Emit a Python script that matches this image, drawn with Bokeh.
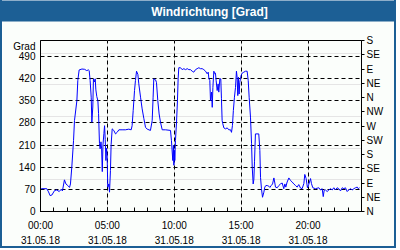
from bokeh.plotting import figure
from bokeh.models import Range1d, LinearAxis, FixedTicker, Grid, Title
from bokeh.embed import file_html
from bokeh.resources import INLINE

# ---- data (hours since 00:00 on 31.05.18, wind direction in degrees) ----
hours = [0.05, 0.47, 0.6, 0.72, 0.85, 1.05, 1.22, 1.4, 1.54, 1.64, 1.79, 1.9, 2.04, 2.17, 2.24,
         2.34, 2.47, 2.54, 2.72, 2.79, 2.89, 3.1, 3.3, 3.45, 3.59, 3.64, 3.71, 3.79, 3.84, 3.91,
         3.96, 4.04, 4.09, 4.14, 4.21, 4.29, 4.34, 4.41, 4.46, 4.52, 4.57, 4.62, 4.67, 4.74, 4.79,
         4.84, 4.89, 4.93, 4.98, 5.03, 5.11, 5.16, 5.23, 5.28, 5.36, 5.48, 5.61, 5.73, 5.86, 6.1,
         6.35, 6.6, 6.78, 6.85, 6.93, 7.03, 7.1, 7.18, 7.28, 7.35, 7.48, 7.6, 7.73, 7.85, 7.98,
         8.22, 8.35, 8.42, 8.47, 8.6, 8.67, 8.77, 8.87, 8.97, 9.1, 9.35, 9.72, 9.79, 9.89, 9.94,
         9.97, 10.02, 10.04, 10.09, 10.17, 10.24, 10.29, 10.34, 10.47, 10.59, 10.72, 10.84, 10.97,
         11.09, 11.21, 11.34, 11.46, 11.59, 11.71, 11.84, 11.96, 12.09, 12.21, 12.34, 12.46, 12.54,
         12.59, 12.66, 12.71, 12.79, 12.84, 12.89, 12.96, 13.03, 13.08, 13.13, 13.21, 13.28, 13.33,
         13.41, 13.48, 13.53, 13.58, 13.63, 13.71, 13.83, 13.96, 14.08, 14.21, 14.28, 14.35, 14.42,
         14.5, 14.58, 14.65, 14.7, 14.75, 14.8, 14.85, 14.9, 14.95, 15.0, 15.08, 15.2, 15.33,
         15.45, 15.53, 15.6, 15.7, 15.78, 15.83, 15.9, 15.95, 16.0, 16.07, 16.32, 16.4, 16.45,
         16.52, 16.6, 16.7, 16.77, 16.85, 16.95, 17.07, 17.15, 17.25, 17.35, 17.45, 17.52, 17.57,
         17.7, 17.82, 17.94, 18.07, 18.19, 18.27, 18.34, 18.44, 18.57, 18.69, 18.82, 18.94, 19.07,
         19.19, 19.31, 19.44, 19.56, 19.69, 19.76, 19.86, 19.96, 20.06, 20.19, 20.26, 20.36, 20.56,
         20.81, 20.93, 21.06, 21.14, 21.21, 21.31, 21.43, 21.56, 21.68, 21.81, 21.93, 22.06, 22.18,
         22.3, 22.43, 22.56, 22.68, 22.8, 22.93, 23.05, 23.18, 23.3, 23.43, 23.55, 23.68, 23.75,
         23.85]
degrees = [72, 72, 62, 50, 52, 66, 68, 63, 70, 65, 100, 87, 82, 76, 87,
           140, 224, 287, 350, 414, 447, 450, 449, 445, 447, 445, 414, 361, 282, 330,
           419, 409, 419, 384, 363, 350, 309, 214, 198, 220, 198, 126, 210, 246, 271,
           227, 161, 200, 180, 77, 87, 61, 129, 211, 261, 256, 245, 250, 258, 258,
           258, 260, 258, 271, 319, 382, 414, 443, 433, 403, 361, 324, 293, 266, 260,
           256, 287, 361, 419, 416, 408, 350, 308, 282, 258, 258, 256, 224, 161, 209,
           146, 193, 161, 224, 282, 350, 419, 454, 454, 448, 451, 448, 451,
           448, 448, 443, 440, 448, 451, 454, 451, 451, 448, 443, 435, 440,
           419, 414, 350, 377, 329, 392, 443, 435, 437, 414, 382, 403, 377,
           419, 419, 356, 287, 277, 264, 261, 264, 258, 258, 250, 271, 319,
           361, 392, 443, 424, 366, 424, 371, 408, 419, 430, 437, 440, 443,
           443, 414, 361, 298, 214, 140, 87, 100, 157, 245, 245, 193, 108,
           72, 45, 61, 77, 82, 82, 80, 76, 82, 87, 106, 90, 77,
           75, 82, 87, 90, 72, 87, 77, 93, 106, 98, 93, 87, 82,
           77, 85, 74, 72, 88, 117, 104, 75, 86, 104, 88, 75, 72,
           75, 68, 72, 47, 67, 68, 63, 68, 72, 68, 75, 68, 75,
           72, 65, 75, 72, 75, 63, 68, 72, 68, 72, 75, 77, 72,
           75]

left_ticks = [0, 70, 140, 210, 280, 350, 420, 490]
unit_label_pos = 521          # where the unit caption "Grad" sits on the left scale
unit_text = "Grad"
compass_ticks = [0, 45, 90, 135, 180, 225, 270, 315, 360, 405, 450, 495, 540]
compass_labels = ["N", "NE", "E", "SE", "S", "SW", "W", "NW", "N", "NE", "E", "SE", "S"]
time_ticks = [0, 5, 10, 15, 20]
time_labels = ["00:00\n31.05.18", "05:00\n31.05.18", "10:00\n31.05.18",
               "15:00\n31.05.18", "20:00\n31.05.18"]
title_text = "Windrichtung [Grad]"

BLUE_BAR = "#1c5f95"
PANEL = "#fbfefb"
FONT = "Liberation Sans"

p = figure(width=396, height=248, output_backend="svg", toolbar_location=None,
           x_range=Range1d(0, 24), y_range=Range1d(0, 540),
           x_axis_location=None, y_axis_location=None,
           min_border_left=38, min_border_right=37, min_border_top=40, min_border_bottom=37,
           styles={"border-left": f"2px solid {BLUE_BAR}", "border-right": f"2px solid {BLUE_BAR}",
                   "border-bottom": f"2px solid {BLUE_BAR}"})
p.title = None
p.border_fill_color = PANEL
p.background_fill_color = PANEL
p.outline_line_color = "black"
p.outline_line_width = 1

# spacer between the title bar and the plot frame
p.add_layout(Title(text=" ", standoff=1, text_font=FONT, text_font_size="12px",
                   text_font_style="bold"), "above")
p.add_layout(Title(text=title_text, align="center", vertical_align="top", standoff=0,
                   text_color="white", text_font=FONT, text_font_size="12px",
                   text_font_style="bold", background_fill_color=BLUE_BAR,
                   padding=dict(left=317, right=300, top=4, bottom=3)), "above")

# left axis (with the unit caption as an extra label at the top)
ya = LinearAxis(ticker=FixedTicker(ticks=left_ticks + [unit_label_pos]),
                major_label_overrides={unit_label_pos: unit_text})
ya.major_tick_in = 0
ya.major_tick_out = 0
ya.minor_tick_line_color = None
ya.major_label_standoff = 5
ya.major_label_text_font = FONT
ya.major_label_text_font_size = "10px"
ya.major_label_text_color = "black"
ya.axis_line_color = "black"
p.add_layout(ya, "left")

# right compass axis
ra = LinearAxis(ticker=FixedTicker(ticks=compass_ticks),
                major_label_overrides={t: l for t, l in zip(compass_ticks, compass_labels)})
ra.major_tick_in = 0
ra.major_tick_out = 3
ra.minor_tick_line_color = None
ra.major_label_standoff = 2
ra.major_label_text_font = FONT
ra.major_label_text_font_size = "10px"
ra.major_label_text_color = "black"
ra.axis_line_color = "black"
p.add_layout(ra, "right")

# bottom time axis
xa = LinearAxis(ticker=FixedTicker(ticks=time_ticks, minor_ticks=list(range(0, 25))),
                major_label_overrides={t: l for t, l in zip(time_ticks, time_labels)})
xa.major_tick_in = 4
xa.major_tick_out = 0
xa.minor_tick_in = 4
xa.minor_tick_out = 0
xa.major_label_standoff = 8
xa.major_label_text_font = FONT
xa.major_label_text_font_size = "10px"
xa.major_label_text_line_height = 1.4
xa.major_label_text_color = "black"
xa.axis_line_color = "black"
p.add_layout(xa, "below")

p.add_layout(Grid(dimension=1, ticker=FixedTicker(ticks=left_ticks), grid_line_color="black",
                  grid_line_dash="4 3", grid_line_width=1))
p.add_layout(Grid(dimension=0, ticker=FixedTicker(ticks=time_ticks), grid_line_color="black",
                  grid_line_dash="4 3", grid_line_width=1))

p.line(hours, degrees, line_color="#0000ff", line_width=1)

open("out.html", "w").write(file_html(p, INLINE))
